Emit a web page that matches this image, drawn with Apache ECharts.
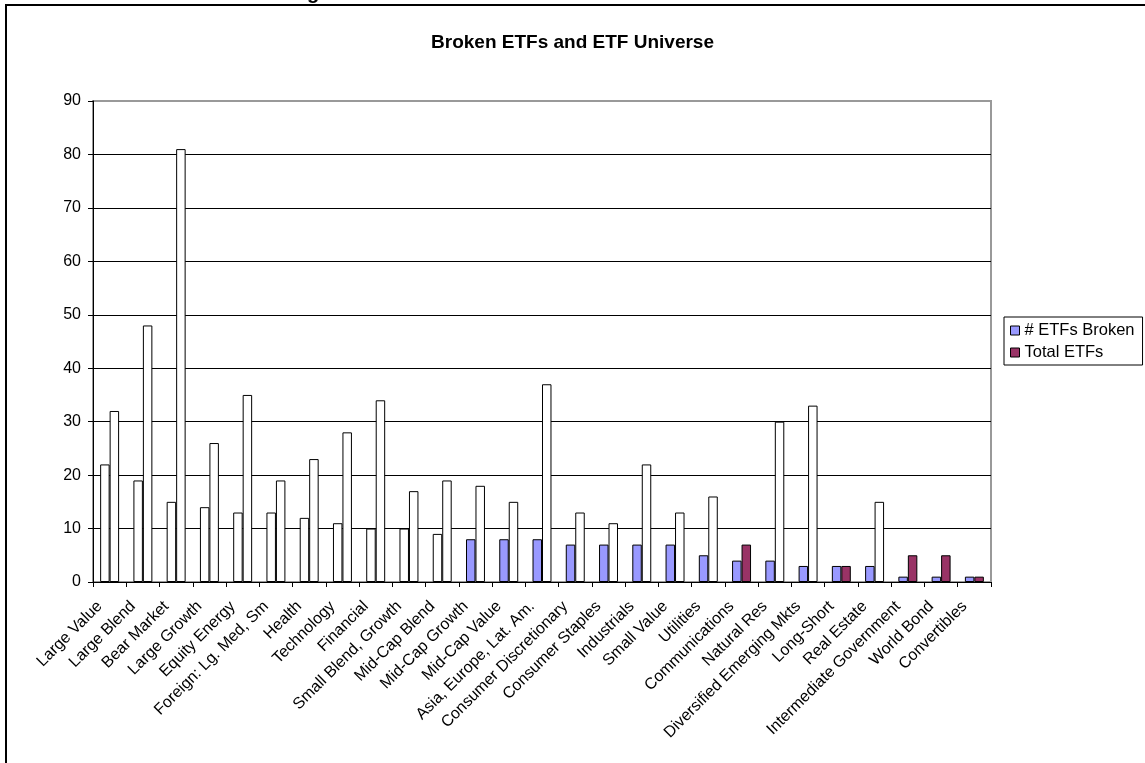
<!DOCTYPE html>
<html>
<head>
<meta charset="utf-8">
<title>Broken ETFs and ETF Universe</title>
<script src="https://cdn.jsdelivr.net/npm/echarts@6/dist/echarts.min.js"></script>
<style>
  html, body { margin: 0; padding: 0; background: #fff; }
  #chart { width: 1145px; height: 763px; }
</style>
</head>
<body>
<div id="chart"></div>
<script>
// Fund categories, ordered by number of broken ETFs
const categories = [
  'Large Value', 'Large Blend', 'Bear Market', 'Large Growth', 'Equity Energy',
  'Foreign: Lg. Med, Sm', 'Health', 'Technology', 'Financial', 'Small Blend, Growth',
  'Mid-Cap Blend', 'Mid-Cap Growth', 'Mid-Cap Value', 'Asia, Europe, Lat. Am.',
  'Consumer Discretionary', 'Consumer Staples', 'Industrials', 'Small Value',
  'Utilities', 'Communications', 'Natural Res', 'Diversified Emerging Mkts',
  'Long-Short', 'Real Estate', 'Intermediate Government', 'World Bond', 'Convertibles'
];

const brokenEtfs = [22, 19, 15, 14, 13, 13, 12, 11, 10, 10, 9, 8, 8, 8, 7, 7, 7, 7, 5, 4, 4, 3, 3, 3, 1, 1, 1];
const totalEtfs  = [32, 48, 81, 26, 35, 19, 23, 28, 34, 17, 19, 18, 15, 37, 13, 11, 22, 13, 16, 7, 30, 33, 3, 15, 5, 5, 1];

const yTicks = [0, 10, 20, 30, 40, 50, 60, 70, 80, 90];

// Styling: series colours and which bars keep a plain white fill
const BROKEN_COLOR = '#9999FF';
const TOTAL_COLOR = '#993366';
const PLAIN_BROKEN_COUNT = 11;               // first categories drawn unfilled
const FILLED_TOTAL = new Set(['Communications', 'Long-Short', 'Intermediate Government', 'World Bond', 'Convertibles']);

const FONT = 'Liberation Sans, Arial, sans-serif';

function barData(values, fillFor) {
  return values.map((v, i) => ({
    value: v,
    itemStyle: { color: fillFor(i) }
  }));
}

const chart = echarts.init(document.getElementById('chart'), null, { renderer: 'canvas' });

chart.setOption({
  animation: false,
  backgroundColor: '#fff',
  textStyle: { fontFamily: FONT, color: '#000' },
  title: {
    text: 'Broken ETFs and ETF Universe',
    left: 'center',
    top: 33,
    padding: 0,
    textStyle: { fontFamily: FONT, fontSize: 19, fontWeight: 'bold', color: '#000' }
  },
  legend: {
    orient: 'vertical',
    left: 1004,
    top: 317,
    padding: [5, 8, 4, 6],
    itemGap: 5,
    itemWidth: 9,
    itemHeight: 9,
    icon: 'rect',
    borderColor: '#000',
    borderWidth: 1,
    itemStyle: { borderColor: '#000', borderWidth: 1 },
    textStyle: { fontFamily: FONT, fontSize: 16.5, color: '#000' },
    data: ['# ETFs Broken', 'Total ETFs']
  },
  grid: {
    left: 93,
    right: 154,
    top: 101,
    bottom: 181,
    show: true,
    borderColor: '#999',
    borderWidth: 2,
    backgroundColor: 'transparent'
  },
  xAxis: {
    type: 'category',
    data: categories,
    boundaryGap: true,
    axisLine: { show: true, lineStyle: { color: '#000', width: 1 } },
    axisTick: { show: true, inside: false, length: 5, lineStyle: { color: '#000' } },
    axisLabel: {
      interval: 0,
      rotate: 45,
      margin: 12,
      padding: [0, 14, 0, 0],
      fontFamily: FONT,
      fontSize: 16,
      color: '#000'
    },
    splitLine: { show: false }
  },
  yAxis: {
    type: 'value',
    min: yTicks[0],
    max: yTicks[yTicks.length - 1],
    interval: yTicks[1] - yTicks[0],
    axisLine: { show: true, lineStyle: { color: '#000', width: 1 } },
    axisTick: { show: true, inside: false, length: 5, lineStyle: { color: '#000' } },
    axisLabel: {
      margin: 12,
      fontFamily: FONT,
      fontSize: 16,
      color: '#000',
      customValues: yTicks
    },
    splitLine: {
      show: true,
      lineStyle: {
        color: yTicks.map((t, i) => (i === yTicks.length - 1 ? '#999' : '#000')),
        width: 1
      }
    }
  },
  series: [
    {
      name: '# ETFs Broken',
      type: 'bar',
      barGap: '0%',
      barCategoryGap: '43%',
      itemStyle: { color: BROKEN_COLOR, borderColor: '#000', borderWidth: 1 },
      data: barData(brokenEtfs, i => (i < PLAIN_BROKEN_COUNT ? '#fff' : BROKEN_COLOR))
    },
    {
      name: 'Total ETFs',
      type: 'bar',
      barGap: '0%',
      barCategoryGap: '43%',
      itemStyle: { color: TOTAL_COLOR, borderColor: '#000', borderWidth: 1 },
      data: barData(totalEtfs, i => (FILLED_TOTAL.has(categories[i]) ? TOTAL_COLOR : '#fff'))
    }
  ],
  graphic: [
    // outer frame: left and top edges
    { type: 'line', shape: { x1: 6, y1: 4, x2: 6, y2: 763 }, style: { stroke: '#000', lineWidth: 2 } },
    { type: 'line', shape: { x1: 5, y1: 5, x2: 1145, y2: 5 }, style: { stroke: '#000', lineWidth: 2 } },
    // tail of the page heading above the frame
    {
      type: 'text', x: 313, y: 3,
      style: { text: 'g', font: 'bold 20px Liberation Sans, Arial, sans-serif', fill: '#000', align: 'center', verticalAlign: 'bottom' }
    }
  ]
});
</script>
</body>
</html>
